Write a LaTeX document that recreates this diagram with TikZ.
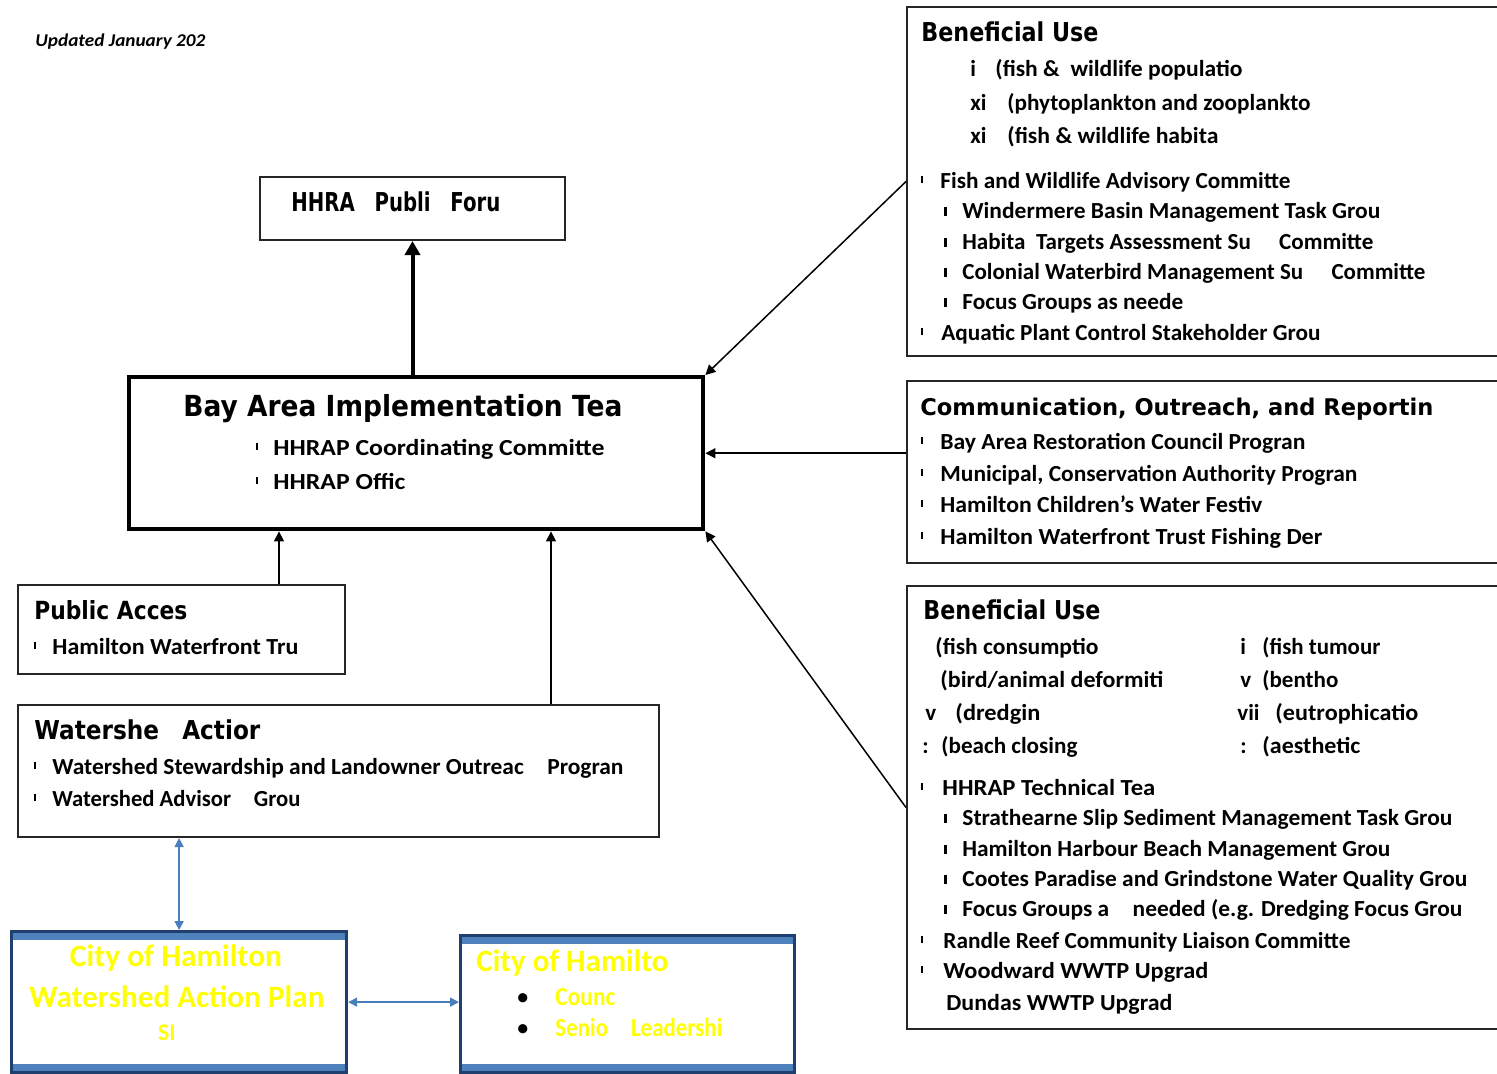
\documentclass[tikz,border=0pt]{standalone}
\usepackage{fontspec}
\usepackage{graphicx}
\setmainfont{Carlito}
\newfontfamily\hdfont{DejaVu Sans}
\usetikzlibrary{arrows.meta}
\newlength\pxu \setlength\pxu{0.5pt}
\newcommand\W[2]{\resizebox{#1\pxu}{\height}{#2}}
\definecolor{navy}{HTML}{1F3F6E}
\definecolor{band}{HTML}{4F81BD}
\definecolor{arrowblue}{HTML}{4A7EBB}
\definecolor{yel}{HTML}{FFFF00}
\tikzset{
  lbl/.style={anchor=mid west, inner sep=0pt, yshift=-2pt, font=\fontsize{11.5}{13}\selectfont\bfseries},
  hd/.style={anchor=mid west, inner sep=0pt, yshift=-2pt, font=\hdfont\bfseries\fontsize{#1}{#1}\selectfont},
  yl/.style={inner sep=0pt, text=yel, font=\fontsize{#1}{#1}\selectfont\bfseries},
  ylw/.style={yl=#1, anchor=mid west, yshift=-2pt},
  thinbox/.style={draw=black!85, line width=1pt, anchor=north west, inner sep=0pt},
  mainbox/.style={draw=black, line width=2.2pt, anchor=north west, inner sep=0pt},
  citybox/.style={draw=navy, line width=1.6pt, anchor=north west, inner sep=0pt,
    path picture={
      \fill[band] ([yshift=-0.8pt]path picture bounding box.north west) rectangle ([yshift=-4.3pt]path picture bounding box.north east);
      \fill[band] ([yshift=0.8pt]path picture bounding box.south west) rectangle ([yshift=4.3pt]path picture bounding box.south east);}},
  bigarr/.style={line width=2pt, -{Triangle[length=7pt,width=7.5pt]}},
  arr/.style={line width=0.75pt, -{Triangle[length=5pt,width=5pt]}},
  barr/.style={draw=arrowblue, line width=0.8pt, {Triangle[length=4.5pt,width=4.5pt]}-{Triangle[length=4.5pt,width=4.5pt]}},
}
\newcommand\tk[2]{\fill (#1-1,#2-4) rectangle (#1+1,#2+3);}
\newcommand\stk[2]{\fill (#1-1.5,#2-3) rectangle (#1+1.5,#2+6);}
\begin{document}
\begin{tikzpicture}[x=0.5pt,y=-0.5pt]
\fill[white] (0,0) rectangle (1497,1073);
\useasboundingbox (0,0) rectangle (1497,1073);

% boxes
\node[thinbox, minimum width=305\pxu, minimum height=63\pxu] (forum) at (259,176) {};
\node[mainbox, minimum width=574\pxu, minimum height=152\pxu] (bait) at (127,375) {};
\node[thinbox, minimum width=600\pxu, minimum height=349\pxu] (bu1) at (906,6) {};
\node[thinbox, minimum width=600\pxu, minimum height=182\pxu] (com) at (906,380) {};
\node[thinbox, minimum width=600\pxu, minimum height=443\pxu] (bu2) at (906,585) {};
\node[thinbox, minimum width=327\pxu, minimum height=89\pxu] (pa) at (17,584) {};
\node[thinbox, minimum width=641\pxu, minimum height=132\pxu] (ws) at (17,704) {};
\node[citybox, minimum width=335\pxu, minimum height=141\pxu] (cwap) at (10,930) {};
\node[citybox, minimum width=334\pxu, minimum height=137\pxu] (coh) at (459,934) {};

% connectors
\draw[bigarr] (bait.north -| forum.south) -- (forum.south);
\draw[arr] (bu1.west) -- (bait.north east);
\draw[arr] (com.west |- bait.east) -- (bait.east);
\draw[arr] (bu2.west) -- (bait.south east);
\coordinate (pa1) at (279,584);
\draw[arr] (pa1) -- (pa1 |- bait.south);
\coordinate (ws1) at (551,704);
\draw[arr] (ws1) -- (ws1 |- bait.south);
\draw[barr] (cwap.north) -- (cwap.north |- ws.south);
\draw[barr] (cwap.east) -- (cwap.east -| coh.west);

% texts
\node[lbl, font=\fontsize{9}{10}\selectfont\bfseries\itshape] (upd) at (35,38) {\W{170}{Updated January 202}};
\node[hd=13] (tforum) at (291,203) {\W{209}{HHRA\quad Publi\quad Foru}};

\node[hd=14.5] (tbait) at (183,408) {\W{439}{Bay Area Implementation Tea}};
\node[lbl] (tb1) at (273,447) {\W{331}{HHRAP Coordinating Committe}};
\node[lbl] (tb2) at (273,481) {\W{132}{HHRAP Offic}};
\tk{257}{447} \tk{257}{481}

% top right
\node[hd=13] (tbu1) at (921,33) {\W{177}{Beneficial Use}};
\node[lbl] (r1a) at (970,68) {i};
\node[lbl] (r1b) at (995,68) {\W{247}{(fish \& \ wildlife populatio}};
\node[lbl] (r2a) at (970,102) {xi};
\node[lbl] (r2b) at (1007,102) {\W{303}{(phytoplankton and zooplankto}};
\node[lbl] (r3a) at (970,135) {xi};
\node[lbl] (r3b) at (1007,135) {\W{211}{(fish \& wildlife habita}};
\node[lbl] (r4) at (940,180) {\W{350}{Fish and Wildlife Advisory Committe}};
\node[lbl] (r5) at (962,210) {\W{418}{Windermere Basin Management Task Grou}};
\node[lbl] (r6) at (962,241) {\W{411}{Habita\ \ Targets Assessment Su\quad\ Committe}};
\node[lbl] (r7) at (962,271) {\W{463}{Colonial Waterbird Management Su\quad\ Committe}};
\node[lbl] (r8) at (962,301) {\W{221}{Focus Groups as neede}};
\node[lbl] (r9) at (941,332) {\W{379}{Aquatic Plant Control Stakeholder Grou}};
\tk{922}{180} \tk{922}{332}
\stk{945}{210} \stk{945}{241} \stk{945}{271} \stk{945}{301}

% communication
\node[hd=11.5] (tcom) at (920,407) {\W{513}{Communication, Outreach, and Reportin}};
\node[lbl] (c1) at (940,441) {\W{365}{Bay Area Restoration Council Progran}};
\node[lbl] (c2) at (940,473) {\W{417}{Municipal, Conservation Authority Progran}};
\node[lbl] (c3) at (940,504) {\W{322}{Hamilton Children’s Water Festiv}};
\node[lbl] (c4) at (940,536) {\W{382}{Hamilton Waterfront Trust Fishing Der}};
\tk{922}{441} \tk{922}{473} \tk{922}{504} \tk{922}{536}

% bottom right
\node[hd=13] (tbu2) at (923,611) {\W{177}{Beneficial Use}};
\node[lbl] (b1) at (935,646) {\W{163}{(fish consumptio}};
\node[lbl] (b2) at (940,679) {\W{223}{(bird/animal deformiti}};
\node[lbl] (b3a) at (925,712) {v};
\node[lbl] (b3b) at (955,712) {\W{85}{(dredgin}};
\node[lbl] (b4a) at (922,745) {:};
\node[lbl] (b4b) at (941,745) {\W{136}{(beach closing}};
\node[lbl] (b5a) at (1240,646) {i};
\node[lbl] (b5b) at (1262,646) {\W{118}{(fish tumour}};
\node[lbl] (b6a) at (1240,679) {v};
\node[lbl] (b6b) at (1262,679) {\W{76}{(bentho}};
\node[lbl] (b7a) at (1237,712) {vii};
\node[lbl] (b7b) at (1275,712) {\W{143}{(eutrophicatio}};
\node[lbl] (b8a) at (1240,745) {:};
\node[lbl] (b8b) at (1262,745) {\W{98}{(aesthetic}};
\node[lbl] (b9) at (942,787) {\W{213}{HHRAP Technical Tea}};
\node[lbl] (b10) at (962,817) {\W{490}{Strathearne Slip Sediment Management Task Grou}};
\node[lbl] (b11) at (962,848) {\W{428}{Hamilton Harbour Beach Management Grou}};
\node[lbl] (b12) at (962,878) {\W{505}{Cootes Paradise and Grindstone Water Quality Grou}};
\node[lbl] (b13) at (962,908) {\W{500}{Focus Groups a\quad needed (e.g. Dredging Focus Grou}};
\node[lbl] (b14) at (943,940) {\W{407}{Randle Reef Community Liaison Committe}};
\node[lbl] (b15) at (943,970) {\W{265}{Woodward WWTP Upgrad}};
\node[lbl] (b16) at (946,1002) {\W{226}{Dundas WWTP Upgrad}};
\tk{922}{787} \tk{922}{940} \tk{922}{970}
\stk{945}{817} \stk{945}{848} \stk{945}{878} \stk{945}{908}

% public access
\node[hd=12.5] (tpa) at (34,611) {\W{153}{Public Acces}};
\node[lbl] (p1) at (52,646) {\W{246}{Hamilton Waterfront Tru}};
\tk{35}{646}

% watershed
\node[hd=13] (tws) at (34,731) {\W{226}{Watershe\quad Actior}};
\node[lbl] (w1) at (52,766) {\W{571}{Watershed Stewardship and Landowner Outreac\quad Progran}};
\node[lbl] (w2) at (52,798) {\W{248}{Watershed Advisor\quad Grou}};
\tk{35}{766} \tk{35}{798}

% city boxes
\node[yl=15.5] (y1) at (176,958) {\W{212}{City of Hamilton}};
\node[yl=15.5] (y2) at (177,997) {\W{295}{Watershed Action Plan}};
\node[yl=12] (y3) at (167,1033) {SI};
\node[ylw=15.5] (y4) at (476,963) {\W{192}{City of Hamilto}};
\node[lbl, font=\fontsize{13}{13}\selectfont] (d1) at (516,997) {•};
\node[lbl, font=\fontsize{13}{13}\selectfont] (d2) at (516,1028) {•};
\node[ylw=13] (y5) at (555,997) {\W{60}{Counc}};
\node[ylw=13] (y6) at (555,1028) {\W{167}{Senio\quad Leadershi}};
\end{tikzpicture}
\end{document}
